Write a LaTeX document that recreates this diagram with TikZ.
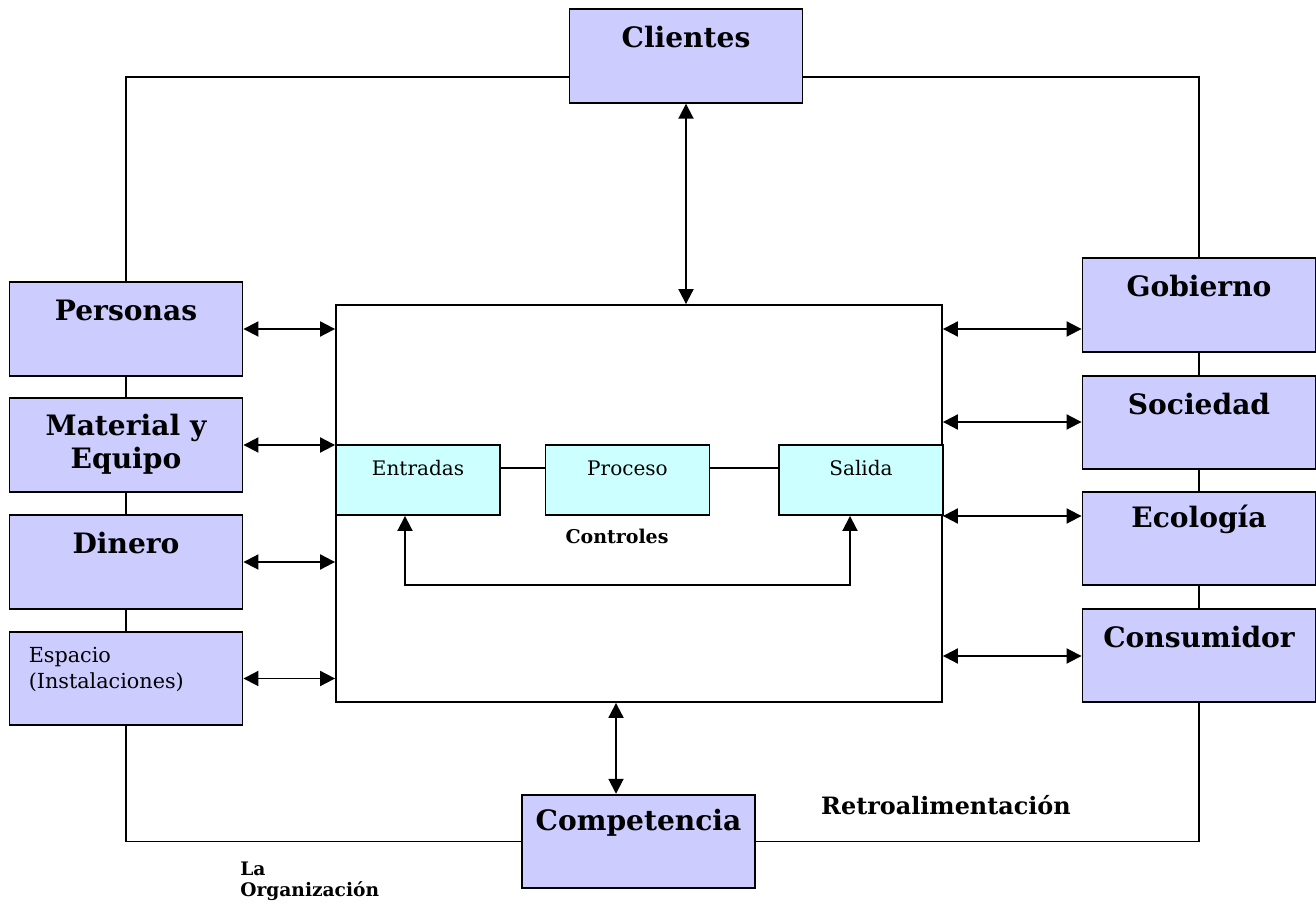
\documentclass[tikz,border=0pt]{standalone}
\usepackage{fontspec}
\setmainfont{DejaVu Serif}
\usetikzlibrary{positioning,arrows.meta,calc}
\definecolor{lila}{RGB}{204,204,255}
\definecolor{celeste}{RGB}{204,255,255}

\begin{document}
\begin{tikzpicture}[x=0.02cm, y=-0.02cm, ext/.style={draw, fill=lila, line width=1.1pt, minimum width=4.66cm, minimum height=1.87cm, inner sep=0pt}, tit/.style={anchor=center, align=center, yshift=-0.58cm, font=\bfseries\fontsize{16}{19.3}\selectfont}, etapa/.style={draw, fill=celeste, line width=1.1pt, minimum width=3.28cm, minimum height=1.4cm, inner sep=0pt}, etq/.style={anchor=center, yshift=-0.48cm, font=\fontsize{11.4}{13}\selectfont}, myto/.style={{Triangle[length=0.3cm,width=0.3cm]}-{Triangle[length=0.3cm,width=0.3cm]}, line width=1.1pt}, lin/.style={line width=1.1pt}]
\useasboundingbox (0,0) rectangle (1316,908);
% entorno
\node[ext, label={[tit]north:Clientes}] (cli) at (686,56){};
\node[ext, label={[tit]north:Personas}] (per) at (126,329){};
\node[ext, label={[tit, yshift=-0.36cm]north:Material y\\Equipo}] (mat) at (126,445){};
\node[ext, label={[tit]north:Dinero}] (din) at (126,562){};
\node[ext, label={[anchor=north west, align=left, xshift=0.28cm, yshift=-0.2cm, font=\fontsize{11.8}{14.7}\selectfont]north west:Espacio\\(Instalaciones)}] (esp) at (126,678.5){};
\node[ext, label={[tit]north:Gobierno}] (gob) at (1199,305){};
\node[ext, label={[tit]north:Sociedad}] (soc) at (1199,422.5){};
\node[ext, label={[tit]north:Ecología}] (eco) at (1199,538.5){};
\node[ext, label={[tit]north:Consumidor}] (con) at (1199,655.5){};
\node[ext, label={[tit]north:Competencia}] (comp) at (638.5,841.5){};
% la organizacion
\node[draw, line width=1.1pt, minimum width=12.12cm, minimum height=7.94cm] (org) at (639,503.5){};
\node[etapa, label={[etq]north:Entradas}] (ent) at (418,480){};
\node[etapa, label={[etq]north:Proceso}] (pro) at (627.5,480){};
\node[etapa, label={[etq]north:Salida}] (sal) at (861,480){};
\node[font=\bfseries\fontsize{10.8}{12}\selectfont] (ctl) at (617,536){Controles};
\node[font=\bfseries\fontsize{13.6}{15}\selectfont] (retro) at (946,805){Retroalimentación};
\node[anchor=west, align=left, inner sep=0pt, font=\bfseries\fontsize{10.6}{12}\selectfont] (orga) at (240,881){La\\Organización};
% conexiones
\draw[lin] ([yshift=0.24cm]ent.east) -- ([yshift=0.24cm]pro.west);
\draw[lin] ([yshift=0.24cm]pro.east) -- ([yshift=0.24cm]sal.west);
\draw[myto] ([xshift=-0.26cm]ent.south) |- (627,585) -| ([xshift=-0.22cm]sal.south);
\draw[myto] (cli.south) -- (cli.south |- org.north);
\draw[myto] ([xshift=-0.45cm]comp.north) -- ([xshift=-0.45cm]comp.north |- org.south);
\foreach \n in {per,mat,din,esp}{\draw[myto] (\n.east) -- (\n.east -| org.west);}
\foreach \n/\y in {gob/329,soc/422,eco/516,con/656}{\draw[myto] (org.east |- 0,\y) -- (\n.west |- 0,\y);}
\foreach \a/\b in {per/mat,mat/din,din/esp,gob/soc,soc/eco,eco/con}{\draw[lin] (\a.south) -- (\b.north);}
\draw[lin] ([yshift=-0.42cm]cli.west) -| (per.north);
\draw[lin] ([yshift=-0.42cm]cli.east) -| (gob.north);
\draw[lin] (esp.south) |- (comp.west);
\draw[lin] (comp.east) -| (con.south);
\end{tikzpicture}
\end{document}
